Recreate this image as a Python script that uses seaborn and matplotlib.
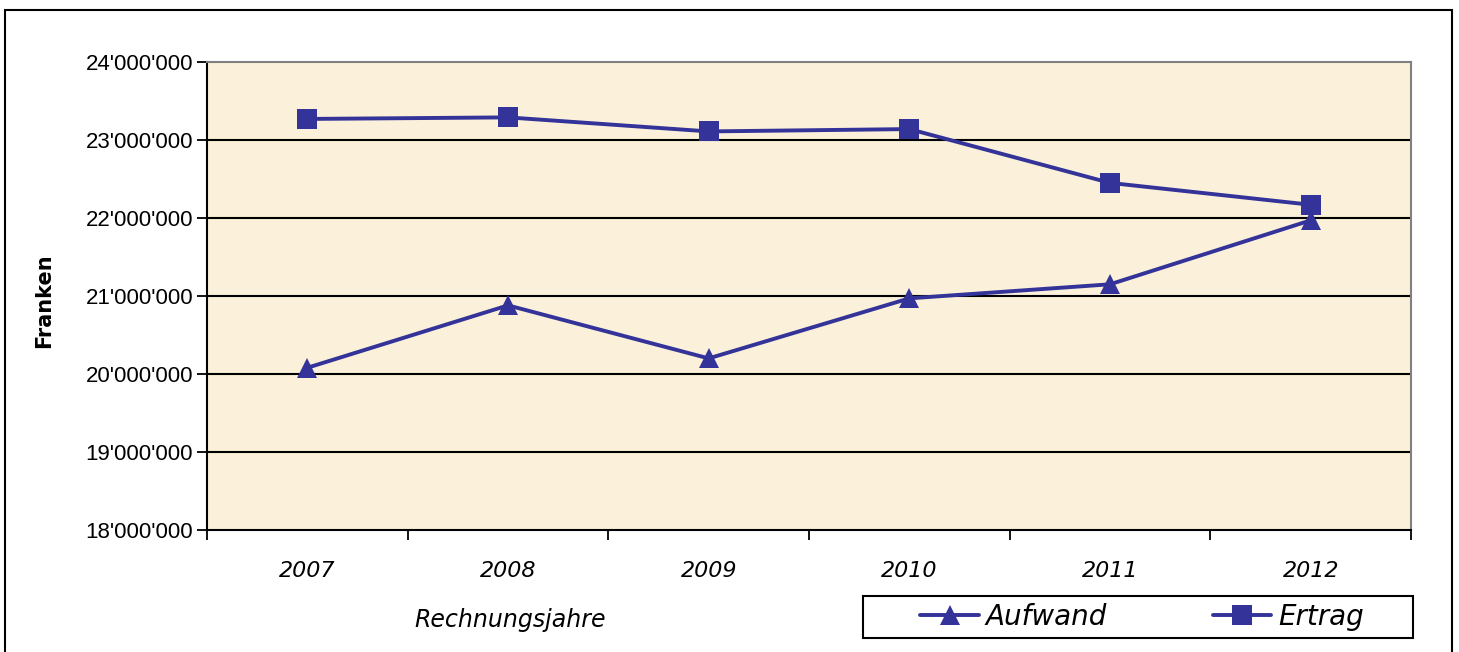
import matplotlib
matplotlib.use("Agg")
import matplotlib.pyplot as plt
import matplotlib.patches as mpatches
from matplotlib.ticker import FuncFormatter, FixedLocator
import seaborn as sns
import pandas as pd

years = ["2007", "2008", "2009", "2010", "2011", "2012"]
aufwand = [20080000, 20880000, 20200000, 20970000, 21150000, 21970000]
ertrag = [23270000, 23290000, 23110000, 23140000, 22450000, 22170000]
series_names = ["Aufwand", "Ertrag"]

df = pd.DataFrame({
    "Jahr": years * 2,
    "Wert": aufwand + ertrag,
    "Serie": [series_names[0]] * len(years) + [series_names[1]] * len(years),
})

sns.set_theme(style="white")
plt.rcParams["font.family"] = ["Liberation Sans", "DejaVu Sans"]
plt.rcParams["text.color"] = "black"
plt.rcParams["axes.labelcolor"] = "black"
plt.rcParams["xtick.color"] = "black"
plt.rcParams["ytick.color"] = "black"

fig = plt.figure(figsize=(14.59, 6.52), dpi=100)
ax = fig.add_axes([207 / 1459, 1 - 530 / 652, 1204 / 1459, 468 / 652])
ax.set_facecolor("#FBF0D9")

color = "#333399"
sns.lineplot(data=df, x="Jahr", y="Wert", hue="Serie", style="Serie",
             markers={"Aufwand": "^", "Ertrag": "s"}, dashes=False,
             palette={"Aufwand": color, "Ertrag": color},
             linewidth=2.8, markersize=14.5, markeredgewidth=0,
             ax=ax, legend=False, zorder=3)

ax.set_xlim(-0.5, 5.5)
ax.set_ylim(18000000, 24000000)
ax.yaxis.set_major_locator(FixedLocator(list(range(18000000, 24000001, 1000000))))
ax.yaxis.set_major_formatter(FuncFormatter(lambda v, p: f"{int(v):,}".replace(",", "'")))
ax.set_xticks([x - 0.5 for x in range(7)], minor=False)
ax.set_xticklabels([])
ax.set_xticks(range(6), minor=True)
ax.set_xticklabels(years, minor=True, fontstyle="italic", fontsize=16,
                   family=["DejaVu Sans"])
ax.tick_params(axis="x", which="minor", length=0, pad=22)
ax.tick_params(axis="x", which="major", length=7, width=1.3, direction="out", color="black")
ax.tick_params(axis="y", which="major", length=7, width=1.3, direction="out", color="black", labelsize=16, pad=3)
ax.xaxis.set_ticks_position("bottom")
ax.yaxis.set_ticks_position("left")

ax.grid(False)
for v in range(19000000, 24000000, 1000000):
    ax.axhline(v, color="black", linewidth=1.5, zorder=1)

for side in ["left", "bottom"]:
    ax.spines[side].set_color("black")
    ax.spines[side].set_linewidth(1.5)
for side in ["top", "right"]:
    ax.spines[side].set_color("#808080")
    ax.spines[side].set_linewidth(1.5)

ax.set_ylabel("Franken", fontsize=15, fontweight="bold", family=["DejaVu Sans"])
ax.yaxis.set_label_coords((54 - 207) / 1204, 0.49)
ax.set_xlabel("Rechnungsjahre", fontsize=17, fontstyle="italic", family=["DejaVu Sans"])
ax.xaxis.set_label_coords((510 - 207) / 1204, (530 - 608) / 468)

handles = [
    plt.Line2D([], [], color=color, marker="^", markersize=14.5, markeredgewidth=0, linewidth=2.8),
    plt.Line2D([], [], color=color, marker="s", markersize=14.5, markeredgewidth=0, linewidth=2.8),
]
leg = fig.legend(handles, series_names, loc="center", ncol=2,
                 bbox_to_anchor=(1142 / 1459, 1 - 617 / 652),
                 frameon=False,
                 prop={"size": 20, "style": "italic", "family": ["DejaVu Sans"]},
                 handlelength=2.1, handletextpad=0.25, columnspacing=3.8,
                 borderaxespad=0, borderpad=0)

legbox = mpatches.Rectangle((863 / 1459, 1 - 638 / 652), 550 / 1459, 42 / 652,
                            transform=fig.transFigure, fill=False,
                            edgecolor="black", linewidth=1.5, clip_on=False)
fig.patches.append(legbox)

border = mpatches.Rectangle((5 / 1459, -0.05), (1452 - 5) / 1459, 1.05 - 10 / 652,
                            transform=fig.transFigure, fill=False,
                            edgecolor="black", linewidth=1.5, clip_on=False)
fig.patches.append(border)

fig.savefig("out.png", dpi=100, facecolor="white")
